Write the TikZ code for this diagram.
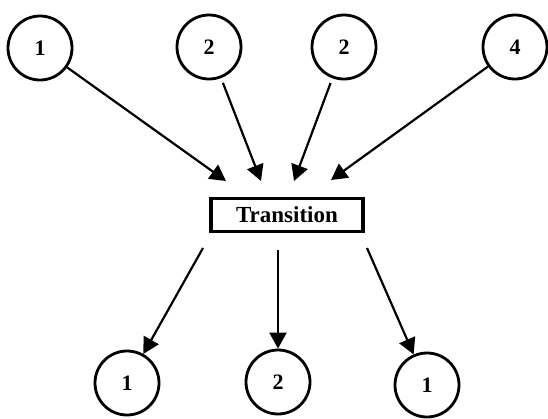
\documentclass[tikz,border=0pt]{standalone}
\usepackage{fontspec}
\setmainfont{Liberation Serif}
\usetikzlibrary{arrows.meta}
\tikzset{
  place/.style={circle, draw, line width=2.8pt, minimum size=64pt, inner sep=0pt,
    font=\fontsize{22}{22}\selectfont\bfseries},
  trans/.style={rectangle, draw, line width=3.8pt, minimum width=152pt, minimum height=33pt,
    inner sep=0pt, font=\fontsize{23}{23}\selectfont\bfseries},
  flow/.style={line width=2.2pt, -{Triangle[length=16pt,width=17pt]}}
}
\begin{document}
\begin{tikzpicture}[x=1pt,y=-1pt]
\useasboundingbox (0,0) rectangle (548,418);
% input places
\node[place] (p1) at (40,48) {1};
\node[place] (p2) at (209,47) {2};
\node[place] (p3) at (344,47) {2};
\node[place] (p4) at (515,47) {4};
% transition
\node[trans] (t) at (287,215) {Transition};
% output places
\node[place] (o1) at (127,383) {1};
\node[place] (o2) at (278,382) {2};
\node[place] (o3) at (427,385) {1};
% arrow ends above the transition
\coordinate (a1) at (226,181);
\coordinate (a2) at (261,181);
\coordinate (a3) at (294,181);
\coordinate (a4) at (331,180);
% arrow starts below the transition
\coordinate (b1) at (203,248);
\coordinate (b2) at (278,250);
\coordinate (b3) at (367,248);
\draw[flow] (p1) -- (a1);
\draw[flow, shorten <=5pt] (p2) -- (a2);
\draw[flow, shorten <=5pt] (p3) -- (a3);
\draw[flow] (p4) -- (a4);
\draw[flow] (b1) -- (o1);
\draw[flow] (b2) -- (o2);
\draw[flow] (b3) -- (o3);
\end{tikzpicture}
\end{document}
